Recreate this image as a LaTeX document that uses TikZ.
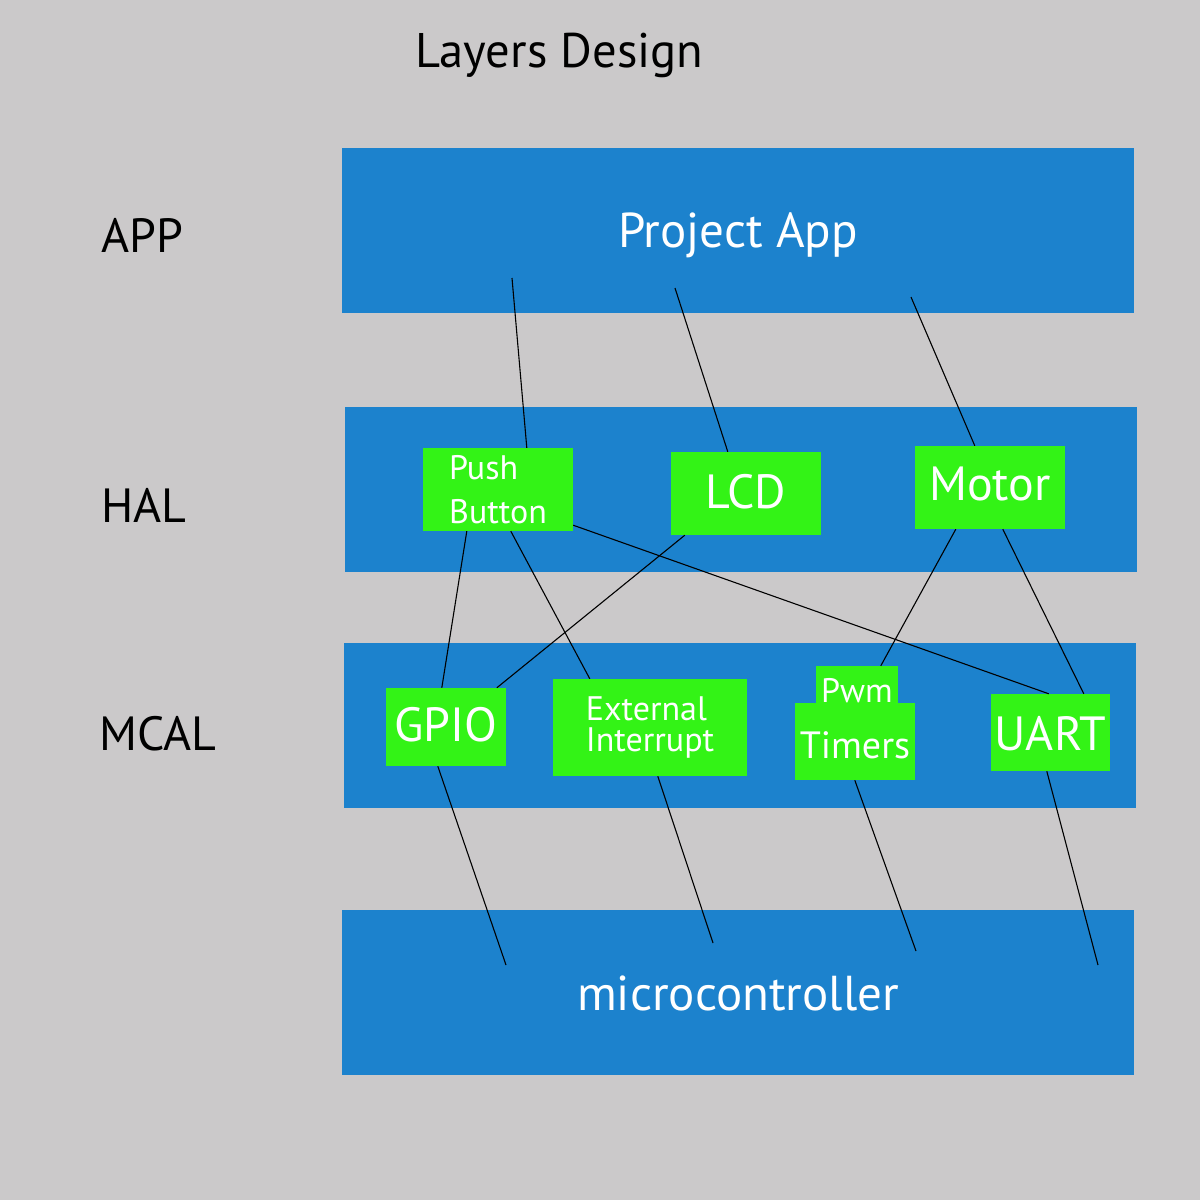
\documentclass[tikz,border=0pt]{standalone}
\usepackage{fontspec}
\setmainfont{PT Sans}
\usepackage{tikz}
\usetikzlibrary{positioning}

\definecolor{bggray}{HTML}{CBC9CA}
\definecolor{layerblue}{HTML}{1C82CD}
\definecolor{modgreen}{HTML}{33F316}

\begin{document}
\begin{tikzpicture}[
    x=1pt, y=-1pt,
    layerband/.style={fill=layerblue, inner sep=0pt, minimum width=792pt, text=white, font=\fontsize{49}{58}\selectfont},
    modbox/.style={fill=modgreen, inner sep=0pt, text=white, font=\fontsize{48}{58}\selectfont},
    modsmall/.style={modbox, align=left, font=\fontsize{34}{44}\selectfont},
    layername/.style={anchor=base west, font=\fontsize{48}{58}\selectfont},
    wire/.style={line width=1.1pt}
]

\fill[bggray] (0,0) rectangle (1200,1200);

\node[anchor=base west, font=\fontsize{48.6}{58}\selectfont] (title) at (412,67) {Layers Design};

\node[layername] (lapp) at (98,252) {APP};
\node[layername] (lhal) at (98,522) {HAL};
\node[layername] (lmcal) at (96,750) {MCAL};

\node[layerband, anchor=base, text height=99pt, text depth=66pt] (app) at (738,247) {Project App};
\node[layerband, minimum height=165pt] (hal) at (741,489.5) {};
\node[layerband, minimum height=165pt] (mcal) at (740,725.5) {};
\node[layerband, anchor=base, text height=100pt, text depth=65pt] (mcu) at (738,1010) {microcontroller};

\node[modsmall, minimum width=150pt, minimum height=83pt] (pb) at (498,489.5) {Push\\Button};
\node[modbox, anchor=base, minimum width=150pt, text height=56pt, text depth=27pt] (lcd) at (746,508) {LCD};
\node[modbox, anchor=base, minimum width=150pt, text height=54pt, text depth=29pt] (motor) at (990,500) {Motor};

\node[modbox, anchor=base, minimum width=120pt, text height=53pt, text depth=25pt] (gpio) at (446,741) {GPIO};
\node[modsmall, minimum width=194pt, minimum height=97pt, font=\fontsize{34}{31}\selectfont] (ext) at (650,727.5) {External\\Interrupt};
\node[modbox, anchor=base, minimum width=82pt, text height=36pt, text depth=1pt, font=\fontsize{34}{40}\selectfont] (pwm) at (857,702) {Pwm};
\node[modbox, anchor=base, minimum width=120pt, text height=55pt, text depth=22pt, font=\fontsize{38}{46}\selectfont] (tim) at (855,758) {Timers};
\node[modbox, anchor=base, minimum width=119pt, text height=56pt, text depth=21pt] (uart) at (1050.5,750) {UART};

\coordinate (a1) at (512,278);
\coordinate (a2) at (675,288);
\coordinate (a3) at (911,297);
\coordinate (m1) at (506,965);
\coordinate (m2) at (713,943);
\coordinate (m3) at (916,951);
\coordinate (m4) at (1098,965);

\draw[wire] (a1) -- ([xshift=104pt]pb.north west);
\draw[wire] (a2) -- ([xshift=57pt]lcd.north west);
\draw[wire] (a3) -- ([xshift=60pt]motor.north west);

\draw[wire] ([xshift=44pt]pb.south west) -- ([xshift=56pt]gpio.north west);
\draw[wire] ([xshift=88pt]pb.south west) -- ([xshift=37pt]ext.north west);
\draw[wire] ([yshift=6pt]pb.south east) -- ([xshift=58pt]uart.north west);
\draw[wire] ([xshift=14pt]lcd.south west) -- ([xshift=111pt]gpio.north west);
\draw[wire] ([xshift=41pt]motor.south west) -- ([xshift=65pt]pwm.north west);
\draw[wire] ([xshift=88pt]motor.south west) -- ([xshift=93pt]uart.north west);

\draw[wire] ([xshift=52pt]gpio.south west) -- (m1);
\draw[wire] ([xshift=105pt]ext.south west) -- (m2);
\draw[wire] ([xshift=60pt]tim.south west) -- (m3);
\draw[wire] ([xshift=56pt]uart.south west) -- (m4);

\end{tikzpicture}
\end{document}
